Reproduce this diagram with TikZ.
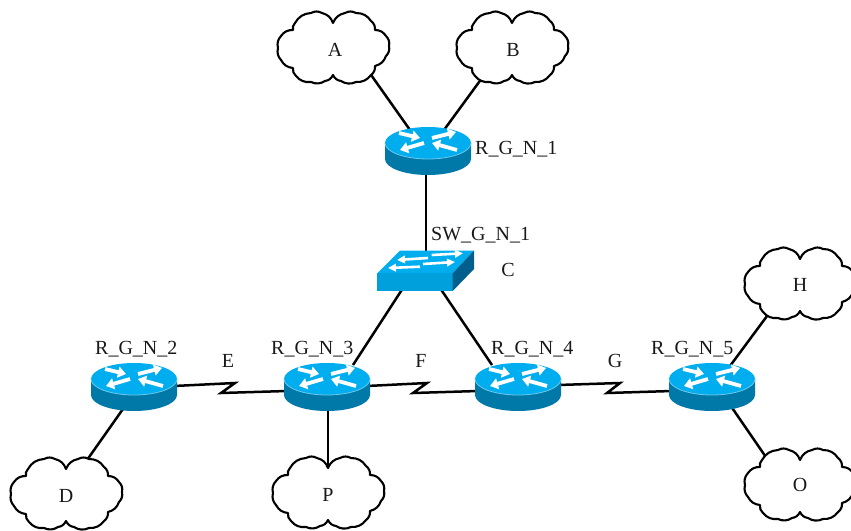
\documentclass[tikz,border=0pt]{standalone}
\usepackage{fontspec}
\setmainfont{Liberation Serif}
\usetikzlibrary{arrows.meta}
\definecolor{devtop}{RGB}{0,174,239}
\definecolor{devfront}{RGB}{0,160,220}
\definecolor{devside}{RGB}{0,120,168}
\definecolor{devdark}{RGB}{0,95,140}
\definecolor{devrim}{RGB}{110,200,235}
\tikzset{
  x=1pt,y=-1pt,
  lnk/.style={draw=black,line width=2.5pt},
  lbl/.style={inner sep=0pt,font=\fontsize{20}{24}\selectfont,text=black!90},
  bmp/.style={bend right=28},
  rarrow/.style={draw=white,line width=3.8pt,-{Triangle[width=11pt,length=8pt]}},
  sarrow/.style={draw=white,line width=2.6pt,-{Triangle[width=7.5pt,length=8pt]}},
  cloudicon/.pic={
    \draw[fill=white,draw=black,line width=2.1pt,line join=round]
      (0,-25) to[bmp] (-11,-35) to[bmp] (-22,-35) to[bmp] (-38,-25) to[bmp] (-40,-18)
      to[bmp] (-52,-12) to[bmp] (-55,0) to[bmp] (-52,12) to[bmp] (-40,20)
      to[bmp] (-37,28) to[bmp] (-22,34) to[bmp] (-8,33) to[bmp] (0,27)
      to[bmp] (8,33) to[bmp] (23,34) to[bmp] (38,27) to[bmp] (42,18)
      to[bmp] (53,8) to[bmp] (56,-2) to[bmp] (53,-12) to[bmp] (42,-18)
      to[bmp] (38,-27) to[bmp] (23,-35) to[bmp] (12,-35) to[bmp] cycle;
  },
  routericon/.pic={
    \fill[devside] (-43,0) -- (-43,16) arc[start angle=180,end angle=0,x radius=43,y radius=16] -- (43,0) -- cycle;
    \fill[devtop] (0,0) ellipse[x radius=43,y radius=16];
    \draw[devrim,line width=0.8pt] (-43,0) arc[start angle=180,end angle=0,x radius=43,y radius=16];
    \draw[rarrow] (-29,-10) -- (-8,-5);
    \draw[rarrow] (4,-5) -- (28,-11);
    \draw[rarrow] (-4,0) -- (-28,7);
    \draw[rarrow] (29,7) -- (4,0);
  },
  switchicon/.pic={
    \fill[devtop] (-26,-19.5) -- (48,-19.5) -- (26.7,3.3) -- (-48.7,3.3) -- cycle;
    \fill[devfront] (-48.7,3.3) -- (26.7,3.3) -- (26.7,21) -- (-48.7,21) -- cycle;
    \fill[devdark] (26.7,3.3) -- (48,-19.5) -- (48,-1) -- (26.7,21) -- cycle;
    \draw[sarrow] (5.7,-15) -- (37,-16.7);
    \draw[sarrow] (2,-12) -- (-29,-10);
    \draw[sarrow] (-3,-6) -- (29,-8);
    \draw[sarrow] (-6,-3.3) -- (-38,-2);
  }
}
\begin{document}
\begin{tikzpicture}
\useasboundingbox (0,0) rectangle (851,530);
% device positions
\coordinate (a) at (333,48);
\coordinate (b) at (512,48);
\coordinate (h) at (800,284);
\coordinate (d) at (66,494);
\coordinate (p) at (328,493);
\coordinate (o) at (800,485);
\coordinate (r1) at (428,143);
\coordinate (r2) at (134,379);
\coordinate (r3) at (327,379);
\coordinate (r4) at (518,379);
\coordinate (r5) at (712,379);
\coordinate (sw) at (426,270);
% connectors
\draw[lnk] ([shift={(36,24)}]a) -- ([shift={(-18,-13)}]r1);
\draw[lnk] ([shift={(-30,30)}]b) -- ([shift={(16,-13)}]r1);
\draw[lnk] ([shift={(-2,20)}]r1) -- ([shift={(0,-10)}]sw);
\draw[lnk] ([shift={(-21,15)}]sw) -- ([shift={(26,-14)}]r3);
\draw[lnk] ([shift={(12,15)}]sw) -- ([shift={(-26,-14)}]r4);
\draw[lnk] ([shift={(1,20)}]r3) -- ([shift={(0,-25)}]p);
\draw[lnk] ([shift={(-4,20)}]r2) -- ([shift={(14,-24)}]d);
\draw[lnk] ([shift={(18,-13)}]r5) -- ([shift={(-30,28)}]h);
\draw[lnk] ([shift={(14,20)}]r5) -- ([shift={(-30,-22)}]o);
\draw[lnk,line join=miter] ([shift={(40,7)}]r2) -- ++(61,-3) -- ++(-14,10) -- ([shift={(-40,12)}]r3);
\draw[lnk,line join=miter] ([shift={(40,7)}]r3) -- ++(60,-3) -- ++(-14,10) -- ([shift={(-40,12)}]r4);
\draw[lnk,line join=miter] ([shift={(40,6)}]r4) -- ++(62,-2) -- ++(-13,10) -- ([shift={(-40,12)}]r5);
% icons
\pic at (a) {cloudicon};
\pic at (b) {cloudicon};
\pic at (h) {cloudicon};
\pic at (d) {cloudicon};
\pic at (p) {cloudicon};
\pic at (o) {cloudicon};
\pic at (r1) {routericon};
\pic at (r2) {routericon};
\pic at (r3) {routericon};
\pic at (r4) {routericon};
\pic at (r5) {routericon};
\pic at (sw) {switchicon};
% labels
\node[lbl] (la) at (335,50) {A};
\node[lbl] (lb) at (513,50) {B};
\node[lbl] (lh) at (800,285) {H};
\node[lbl] (lo) at (800,485) {O};
\node[lbl] (ld) at (66,496) {D};
\node[lbl] (lp) at (328,495) {P};
\node[lbl] (lc) at (508,270) {C};
\node[lbl] (le) at (228,361) {E};
\node[lbl] (lf) at (421,361) {F};
\node[lbl] (lg) at (615,361) {G};
\node[lbl,anchor=west] (nr1) at (475,149) {R\_G\_N\_1};
\node[lbl,anchor=west] (nsw) at (431,235) {SW\_G\_N\_1};
\node[lbl,anchor=west] (nr2) at (95,349) {R\_G\_N\_2};
\node[lbl,anchor=west] (nr3) at (271,349) {R\_G\_N\_3};
\node[lbl,anchor=west] (nr4) at (491,349) {R\_G\_N\_4};
\node[lbl,anchor=west] (nr5) at (651,349) {R\_G\_N\_5};
\end{tikzpicture}
\end{document}
